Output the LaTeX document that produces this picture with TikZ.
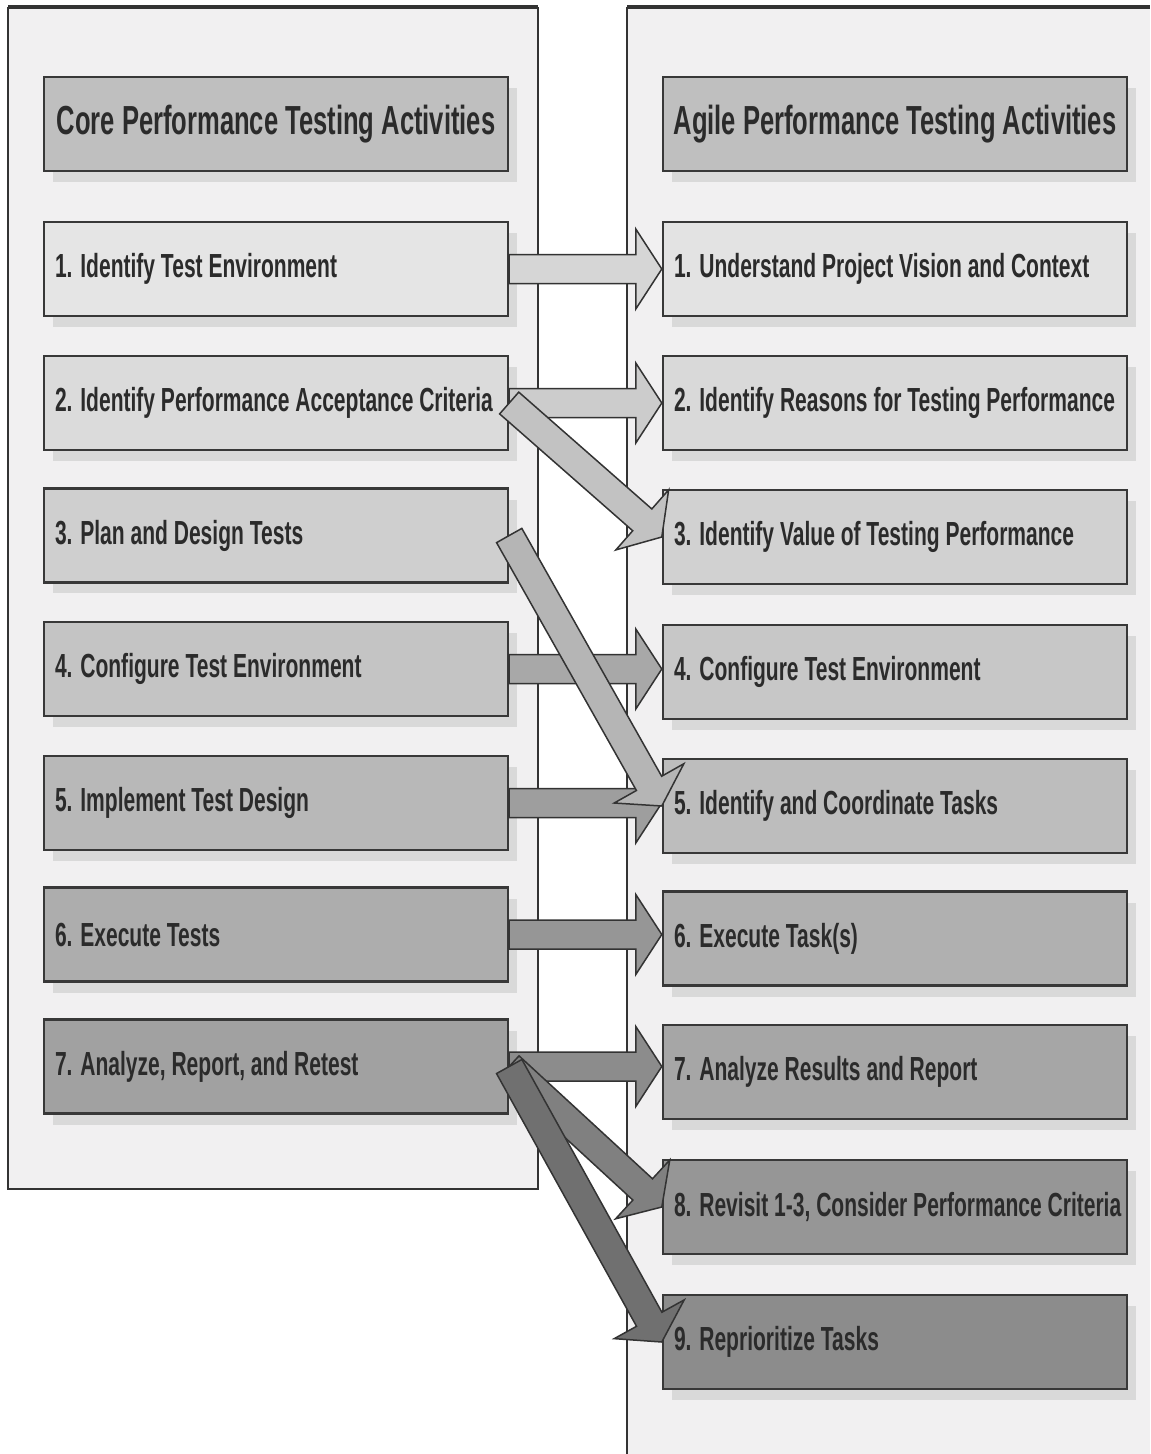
\documentclass[tikz,border=0pt]{standalone}
\usepackage{fontspec}
\setmainfont{Liberation Sans}[FakeStretch=0.63]
\usetikzlibrary{calc,shadows}

\definecolor{panelbg}{HTML}{F1F0F1}
\definecolor{rim}{HTML}{333333}
\newcommand{\bodyfont}{\fontsize{19}{22}\selectfont\bfseries}
\newcommand{\headfont}{\fontsize{23.1}{26}\selectfont\bfseries}

% block arrow from #1 to #2, grey level #3
\newcommand{\blockarrow}[3]{%
  \coordinate (tail) at (#1);
  \coordinate (tip) at (#2);
  \coordinate (neck) at ($(tip)!0.52cm!(tail)$);
  \draw[flow, fill=black!#3]
    ($(tail)!0.29cm!90:(tip)$) -- ($(neck)!0.29cm!90:(tip)$)
    -- ($(neck)!0.8cm!90:(tip)$) -- (tip)
    -- ($(neck)!0.8cm!-90:(tip)$) -- ($(neck)!0.29cm!-90:(tip)$)
    -- ($(tail)!0.29cm!-90:(tip)$) -- cycle;
}

\tikzset{
  box/.style={draw=black!78, line width=0.05cm, minimum width=9.28cm,
    minimum height=1.88cm, inner xsep=0.22cm, text=black!83,
    drop shadow={shadow xshift=0.18cm, shadow yshift=-0.22cm,
      fill=black!15, opacity=1}},
  activity/.style={box, font=\bodyfont,
    execute at begin node={\hbox to 8.84cm\bgroup},
    execute at end node={\hss\egroup}},
  heading/.style={box, font=\headfont, fill=black!25, inner xsep=0.08cm},
  flow/.style={draw=black!80, line width=0.03cm, line join=miter}
}

\begin{document}
\begin{tikzpicture}[x=0.02cm, y=-0.02cm]
\useasboundingbox (0,0) rectangle (1150,1454);

% panels
\fill[panelbg] (8,7) rectangle (538,1189);
\draw[rim, line width=0.03cm] (8,7) -- (8,1189) -- (538,1189) -- (538,7);
\draw[rim, line width=0.08cm] (8,7) -- (538,7);
\fill[panelbg] (627,7) rectangle (1150,1454);
\draw[rim, line width=0.03cm] (627,1454) -- (627,7);
\draw[rim, line width=0.08cm] (627,7) -- (1150,7);

% core nodes
\node[heading] (C0) at (276,124) {Core Performance Testing Activities};
\node[activity, fill=black!10] (C1) at (276,269) {1. Identify Test Environment};
\node[activity, fill=black!14] (C2) at (276,403) {2. Identify Performance Acceptance Criteria};
\node[activity, fill=black!19] (C3) at (276,535.5) {3. Plan and Design Tests};
\node[activity, fill=black!23] (C4) at (276,669) {4. Configure Test Environment};
\node[activity, fill=black!28] (C5) at (276,803) {5. Implement Test Design};
\node[activity, fill=black!32] (C6) at (276,934.5) {6. Execute Tests};
\node[activity, fill=black!37] (C7) at (276,1066.5) {7. Analyze, Report, and Retest};

% agile nodes
\node[heading] (A0) at (895,124) {Agile Performance Testing Activities};
\node[activity, fill=black!11] (A1) at (895,269) {1. Understand Project Vision and Context};
\node[activity, fill=black!15] (A2) at (895,403) {2. Identify Reasons for Testing Performance};
\node[activity, fill=black!18] (A3) at (895,537) {3. Identify Value of Testing Performance};
\node[activity, fill=black!22] (A4) at (895,672) {4. Configure Test Environment};
\node[activity, fill=black!26] (A5) at (895,806) {5. Identify and Coordinate Tasks};
\node[activity, fill=black!31] (A6) at (895,938.5) {6. Execute Task(s)};
\node[activity, fill=black!35] (A7) at (895,1072) {7. Analyze Results and Report};
\node[activity, fill=black!41] (A8) at (895,1207) {8. Revisit 1-3, Consider Performance Criteria};
\node[activity, fill=black!45] (A9) at (895,1342) {9. Reprioritize Tasks};

% arrows
\blockarrow{C1.east}{C1.east -| A1.west}{16}
\blockarrow{C2.east}{C2.east -| A2.west}{20}
\blockarrow{C2.east}{A3.west}{24}
\blockarrow{C4.east}{C4.east -| A4.west}{34}
\blockarrow{C5.east}{C5.east -| A5.west}{38}
\blockarrow{C3.east}{A5.west}{29}
\blockarrow{C6.east}{C6.east -| A6.west}{41}
\blockarrow{C7.east}{C7.east -| A7.west}{45}
\blockarrow{C7.east}{A8.west}{50}
\blockarrow{C7.east}{A9.west}{56}
\end{tikzpicture}
\end{document}
